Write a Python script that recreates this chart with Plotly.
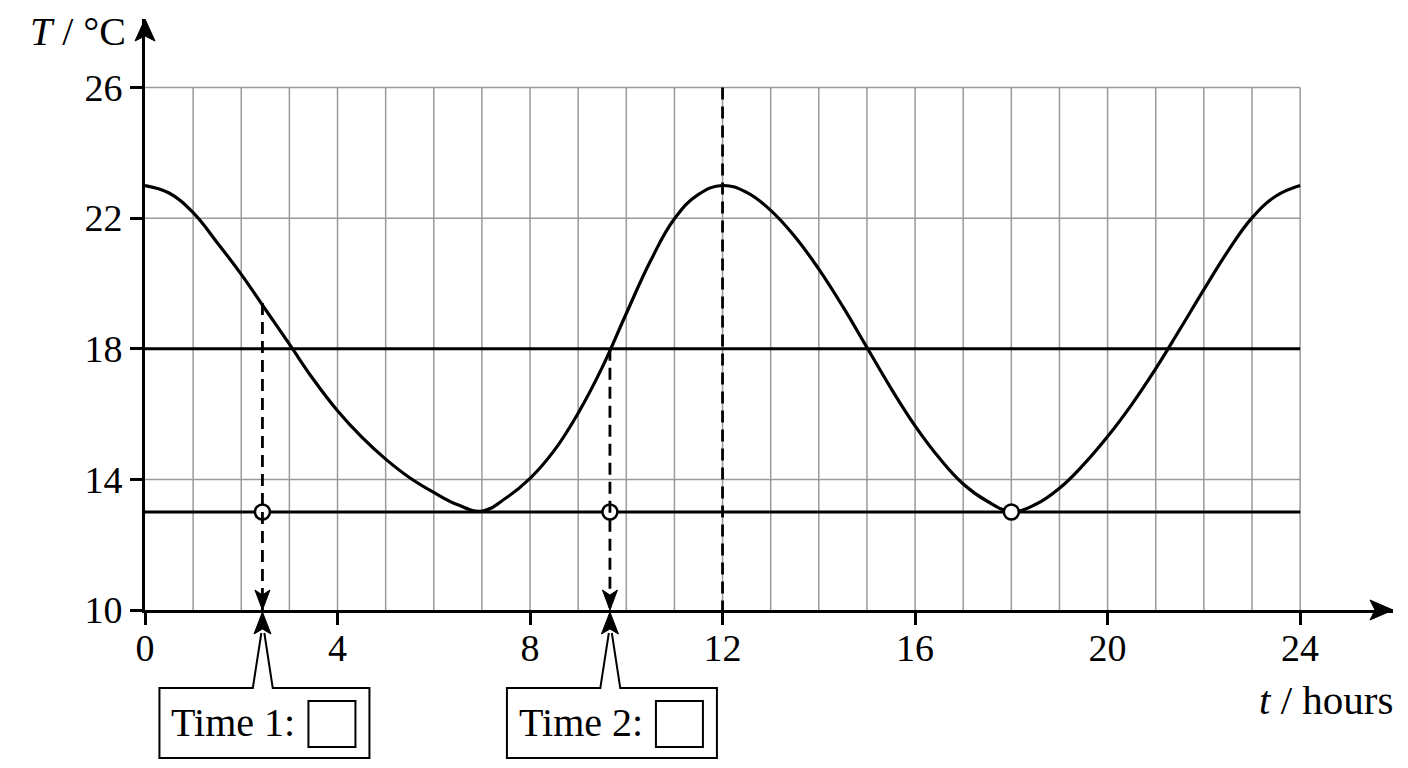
import plotly.graph_objects as go

# temperature curve, every half hour
hours = [i / 2 for i in range(49)]
temps = [23.0, 22.77, 22.17, 21.25, 20.28, 19.21, 18.14, 17.06, 16.1, 15.3,
         14.62, 14.05, 13.6, 13.22, 13.03, 13.43, 14.03, 14.88, 16.03, 17.43,
         19.08, 20.68, 21.98, 22.73, 23.0, 22.79, 22.24, 21.44, 20.44, 19.29,
         18.04, 16.79, 15.64, 14.66, 13.86, 13.33, 13.02, 13.23, 13.73, 14.45,
         15.31, 16.29, 17.39, 18.59, 19.81, 20.99, 22.01, 22.68, 23.0]

# grid and reference lines
grid_hours = list(range(1, 25))
grid_temps = [14, 22, 26]
ref_temps = [18, 13]

# marked points on the 13 degree line
mark_hours = [2.44, 9.66, 18]
mark_temps = [13, 13, 13]

# dashed drop lines (hour, top temperature)
drop_hours = [2.44, 9.66, 12]
drop_tops = [19.4, 18.0, 26]

# answer boxes
box_hours = [2.44, 9.66]
box_labels = ["Time 1:", "Time 2:"]

x_ticks = [0, 4, 8, 12, 16, 20, 24]
y_ticks = [10, 14, 18, 22, 26]

FONT = "Liberation Serif"

fig = go.Figure()

fig.add_trace(go.Scatter(x=hours, y=temps, mode="lines",
                         line=dict(color="black", width=3.2, shape="spline", smoothing=1.2),
                         hoverinfo="skip"))
fig.add_trace(go.Scatter(x=mark_hours, y=mark_temps, mode="markers",
                         marker=dict(symbol="circle", size=15, color="white",
                                     line=dict(color="black", width=2.5)),
                         hoverinfo="skip"))

shapes = []
for h in grid_hours:
    shapes.append(dict(type="line", xref="x", yref="y", x0=h, x1=h, y0=10, y1=26,
                       line=dict(color="#9a9a9a", width=1.5), layer="below"))
for v in grid_temps:
    shapes.append(dict(type="line", xref="x", yref="y", x0=0, x1=24, y0=v, y1=v,
                       line=dict(color="#9a9a9a", width=1.5), layer="below"))
for v in ref_temps:
    shapes.append(dict(type="line", xref="x", yref="y", x0=0, x1=24, y0=v, y1=v,
                       line=dict(color="black", width=3), layer="below"))

# dashed drop lines, with arrow heads down onto the time axis
for h, top in zip(drop_hours, drop_tops):
    shapes.append(dict(type="line", xref="x", yref="y", x0=h, x1=h, y0=top, y1=10,
                       line=dict(color="black", width=2.8, dash="12px,7px")))
for h in box_hours:
    shapes.append(dict(type="path", xref="x", yref="y", xsizemode="pixel", ysizemode="pixel",
                       xanchor=h, yanchor=10,
                       path="M0,0 L-7.5,20 L0,15 L7.5,20 Z",
                       fillcolor="black", line=dict(color="black", width=1)))
    # callout box with a pointer up to the axis
    shapes.append(dict(type="path", xref="x", yref="paper", xsizemode="pixel", ysizemode="pixel",
                       xanchor=h, yanchor=0,
                       path="M-1.1,-23 L-9.6,-78 L-103,-78 L-103,-148 L107,-148 L107,-78 L10.3,-78 L1.9,-23",
                       line=dict(color="black", width=2)))
    shapes.append(dict(type="path", xref="x", yref="paper", xsizemode="pixel", ysizemode="pixel",
                       xanchor=h, yanchor=0,
                       path="M0,-2 L-8.5,-24 L0,-19 L8.5,-24 Z",
                       fillcolor="black", line=dict(color="black", width=1)))
    shapes.append(dict(type="rect", xref="x", yref="paper", xsizemode="pixel", ysizemode="pixel",
                       xanchor=h, yanchor=0, x0=46, x1=93, y0=-137, y1=-91,
                       line=dict(color="black", width=2)))

# axis arrow heads
shapes.append(dict(type="path", xref="paper", yref="paper", xsizemode="pixel", ysizemode="pixel",
                   xanchor=0, yanchor=1, path="M0,0 L-10,-22 L0,-17 L10,-22 Z",
                   fillcolor="black", line=dict(color="black", width=1)))
shapes.append(dict(type="path", xref="paper", yref="paper", xsizemode="pixel", ysizemode="pixel",
                   xanchor=1, yanchor=0, path="M0,0 L-23,10 L-18,0 L-23,-10 Z",
                   fillcolor="black", line=dict(color="black", width=1)))

annotations = []
for h, label in zip(box_hours, box_labels):
    annotations.append(dict(x=h, y=0, xref="x", yref="paper", text=label, showarrow=False,
                            xanchor="left", yanchor="middle", xshift=-93, yshift=-112,
                            font=dict(family=FONT, size=40, color="black")))
annotations.append(dict(x=0, y=1, xref="paper", yref="paper", text="<i>T</i> / °C",
                        showarrow=False, xanchor="right", yanchor="middle", xshift=-17, yshift=-12,
                        font=dict(family=FONT, size=40, color="black")))
annotations.append(dict(x=1, y=0, xref="paper", yref="paper", text="<i>t</i> / hours",
                        showarrow=False, xanchor="right", yanchor="middle", xshift=2, yshift=-90,
                        font=dict(family=FONT, size=41, color="black")))

# the page body keeps an 8px margin, so the figure is 16px smaller than the window
fig.update_layout(
    width=1392, height=752,
    margin=dict(l=137, r=7, t=11, b=150),
    plot_bgcolor="white", paper_bgcolor="white",
    showlegend=False,
    font=dict(family=FONT, size=38, color="black"),
    shapes=shapes, annotations=annotations,
)
fig.update_xaxes(range=[0, 25.93], tickvals=x_ticks, ticktext=[str(v) for v in x_ticks],
                 ticks="outside", ticklen=12, tickwidth=2.5, tickcolor="black",
                 ticklabelstandoff=-10,
                 showline=True, linewidth=3, linecolor="black",
                 showgrid=False, zeroline=False, fixedrange=True)
fig.update_yaxes(range=[10, 28.1], tickvals=y_ticks, ticktext=[str(v) for v in y_ticks],
                 ticks="outside", ticklen=12, tickwidth=2.5, tickcolor="black",
                 showline=True, linewidth=3, linecolor="black",
                 showgrid=False, zeroline=False, fixedrange=True)

fig.write_html("out.html")
